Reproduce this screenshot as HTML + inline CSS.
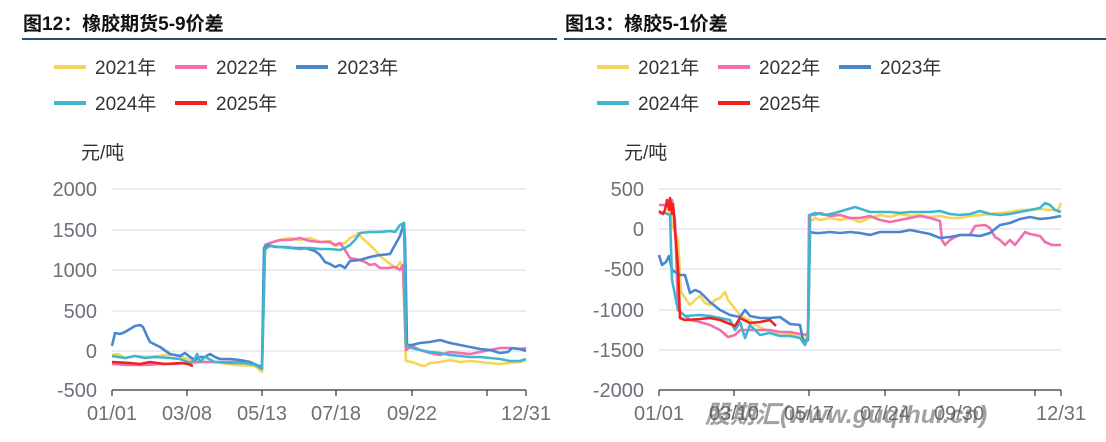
<!DOCTYPE html>
<html><head><meta charset="utf-8"><style>
body{margin:0;background:#fff;width:1106px;height:442px;overflow:hidden}
svg{display:block}
</style></head><body>
<svg width="1106" height="442" xmlns="http://www.w3.org/2000/svg" font-family="Liberation Sans,Noto Sans CJK SC,sans-serif">
<text x="23" y="30" font-size="19" font-weight="bold" fill="#111">图12：橡胶期货5-9价差</text>
<text x="565" y="30" font-size="19" font-weight="bold" fill="#111">图13：橡胶5-1价差</text>
<line x1="22" y1="39" x2="557" y2="39" stroke="#1f4e79" stroke-width="2"/>
<line x1="564" y1="39" x2="1106" y2="39" stroke="#1f4e79" stroke-width="2"/>
<g font-size="19" fill="#333">
<g id="leg">
<line x1="54" y1="67" x2="86" y2="67" stroke="#f5d55a" stroke-width="4"/><text x="95" y="74">2021年</text>
<line x1="175" y1="67" x2="207" y2="67" stroke="#f06fac" stroke-width="4"/><text x="216" y="74">2022年</text>
<line x1="296" y1="67" x2="328" y2="67" stroke="#4a86d0" stroke-width="4"/><text x="337" y="74">2023年</text>
<line x1="54" y1="103" x2="86" y2="103" stroke="#3fb6cf" stroke-width="4"/><text x="95" y="110">2024年</text>
<line x1="175" y1="103" x2="207" y2="103" stroke="#f22222" stroke-width="4"/><text x="216" y="110">2025年</text>
</g>
<use href="#leg" x="543"/>
<text x="81" y="159">元/吨</text>
<text x="624" y="159">元/吨</text>
</g>
<g stroke="#dde1ea" stroke-width="1.2">
<line x1="112" y1="189" x2="526" y2="189"/><line x1="112" y1="230" x2="526" y2="230"/><line x1="112" y1="270" x2="526" y2="270"/><line x1="112" y1="311" x2="526" y2="311"/><line x1="112" y1="351" x2="526" y2="351"/>
<line x1="659" y1="189" x2="1061" y2="189"/><line x1="659" y1="229" x2="1061" y2="229"/><line x1="659" y1="269" x2="1061" y2="269"/><line x1="659" y1="310" x2="1061" y2="310"/><line x1="659" y1="350" x2="1061" y2="350"/>
</g>
<g stroke="#333" stroke-width="1.2">
<line x1="112" y1="390" x2="526" y2="390"/>
<line x1="112" y1="390" x2="112" y2="396"/><line x1="187" y1="390" x2="187" y2="396"/><line x1="262" y1="390" x2="262" y2="396"/><line x1="336" y1="390" x2="336" y2="396"/><line x1="412" y1="390" x2="412" y2="396"/><line x1="487" y1="390" x2="487" y2="396"/><line x1="526" y1="390" x2="526" y2="396"/>
<line x1="659" y1="390" x2="1061" y2="390"/>
<line x1="659" y1="390" x2="659" y2="396"/><line x1="734" y1="390" x2="734" y2="396"/><line x1="809" y1="390" x2="809" y2="396"/><line x1="885" y1="390" x2="885" y2="396"/><line x1="959" y1="390" x2="959" y2="396"/><line x1="1035" y1="390" x2="1035" y2="396"/><line x1="1061" y1="390" x2="1061" y2="396"/>
</g>
<g font-size="20" fill="#6e7079" text-anchor="end">
<text x="97" y="196">2000</text><text x="97" y="237">1500</text><text x="97" y="277">1000</text><text x="97" y="318">500</text><text x="97" y="358">0</text><text x="97" y="397">-500</text>
<text x="644" y="196">500</text><text x="644" y="236">0</text><text x="644" y="276">-500</text><text x="644" y="317">-1000</text><text x="644" y="357">-1500</text><text x="644" y="397">-2000</text>
</g>
<g font-size="20" fill="#6e7079" text-anchor="middle">
<text x="112" y="420">01/01</text><text x="187" y="420">03/08</text><text x="262" y="420">05/13</text><text x="336" y="420">07/18</text><text x="412" y="420">09/22</text><text x="526" y="420">12/31</text>
<text x="659" y="420">01/01</text><text x="734" y="420">03/10</text><text x="809" y="420">05/17</text><text x="885" y="420">07/24</text><text x="959" y="420">09/30</text><text x="1061" y="420">12/31</text>
</g>
<g fill="none" stroke-width="2.6" stroke-linejoin="round">
<polyline stroke="#f5d55a" points="112,355 118,354 125,358 135,356 150,357 165,355 175,355 182,357 190,360 200,362 215,362 235,365 255,366 262,372 265,250 270,243 280,240 290,238 300,240 310,238 320,242 330,241 335,246 340,244 345,243 350,238 355,236 358,233 362,238 370,245 375,250 380,256 390,264 396,268 400,262 403,270 406,361 412,362 420,365 425,366 430,363 440,362 450,360 460,362 470,361 480,362 490,363 500,364 510,363 520,362 526,360"/>
<polyline stroke="#f06fac" points="112,364 130,365 145,365 160,364 175,364 185,363 200,362 220,362 240,362 255,364 262,368 265,245 270,243 280,240 290,240 300,238 310,241 320,242 330,242 335,245 340,243 345,250 350,258 360,260 365,262 370,265 375,264 380,268 388,268 395,267 400,270 403,265 406,350 412,346 420,350 430,353 440,355 450,352 460,353 470,354 480,352 490,350 500,348 510,348 520,349 526,348"/>
<polyline stroke="#4a86d0" points="112,346 115,333 120,334 125,332 130,329 135,326 140,325 143,327 147,336 150,342 160,347 170,354 180,356 185,353 190,357 195,360 200,357 205,357 210,354 215,357 220,359 230,359 240,360 250,362 258,366 262,366 264,248 268,245 275,247 285,247 295,248 305,248 315,251 320,255 325,262 330,264 335,267 340,265 345,268 350,261 360,260 370,257 380,255 390,254 395,245 400,236 404,223 405,240 407,345 412,345 420,343 430,342 440,340 450,343 460,345 470,347 480,349 490,350 500,353 508,352 512,348 520,349 526,351"/>
<polyline stroke="#3fb6cf" points="112,356 118,357 125,358 135,356 145,358 155,357 170,358 180,359 190,363 195,359 197,354 200,362 205,357 215,362 230,363 245,363 255,365 262,369 265,249 270,246 280,247 290,248 300,249 310,248 320,249 330,249 340,250 345,248 350,245 355,240 360,233 370,232 380,232 390,231 395,232 400,225 404,223 406,345 412,348 420,350 430,352 440,353 450,355 460,356 470,357 480,357 490,358 500,359 510,361 520,361 526,359"/>
<polyline stroke="#f22222" points="112,362 130,363 140,364 150,362 165,364 180,363 188,364 193,366"/>

<polyline stroke="#f5d55a" points="659,213 670,213 672,225 678,240 681,292 690,305 695,300 700,296 705,303 710,305 715,300 720,298 725,292 728,300 732,305 740,315 745,318 750,320 755,325 760,327 770,332 780,335 790,334 800,337 805,340 808,330 810,222 815,218 820,220 830,218 840,220 850,218 860,222 870,218 880,215 890,217 900,214 910,216 920,215 930,217 940,216 950,218 960,218 970,216 980,215 990,214 1000,213 1010,212 1020,210 1030,210 1040,209 1050,210 1058,210 1061,203"/>
<polyline stroke="#f06fac" points="659,205 670,205 672,200 675,220 678,310 690,320 700,322 710,325 720,330 728,337 735,335 740,330 750,330 760,330 770,330 780,332 790,332 800,334 808,335 809,215 815,215 820,213 830,216 840,215 850,218 860,218 870,216 880,220 890,222 900,220 910,218 920,216 930,218 940,221 942,240 945,245 950,240 955,237 960,235 970,235 975,226 985,225 990,228 995,237 1000,240 1005,245 1010,240 1015,245 1025,232 1030,234 1040,236 1045,242 1052,245 1061,245"/>
<polyline stroke="#4a86d0" points="659,255 662,265 666,262 669,256 672,270 675,272 680,275 685,275 690,293 695,290 700,292 710,302 720,310 730,315 740,317 745,310 750,316 760,318 770,318 780,317 790,324 800,325 803,340 806,341 808,340 810,232 815,233 820,233 830,232 840,233 850,232 860,233 870,235 880,232 890,232 900,232 910,230 920,232 930,234 940,238 950,237 960,235 970,235 980,236 990,233 1000,225 1010,223 1020,219 1030,217 1040,219 1050,218 1061,216"/>
<polyline stroke="#3fb6cf" points="659,213 665,213 670,215 672,280 678,310 685,316 700,315 710,316 720,318 730,320 735,330 740,322 745,338 750,325 760,335 770,333 780,336 790,336 800,338 805,345 808,337 810,215 815,213 825,215 835,213 845,210 855,207 870,212 880,212 890,212 900,213 910,212 920,212 930,212 940,211 950,214 960,215 970,214 980,211 990,214 1000,215 1010,214 1020,212 1030,210 1040,208 1045,203 1050,205 1055,210 1061,212"/>
<polyline stroke="#f22222" points="659,211 663,214 665,210 667,200 669,210 670,198 672,214 673,204 675,230 678,268 680,318 685,320 700,319 710,318 720,320 735,326 740,318 750,323 760,322 770,320 776,326"/>
</g>
<text x="705" y="423" font-size="25" font-weight="bold" font-style="italic" fill="#555" opacity="0.55">股期汇(www.guqihui.cn)</text>
</svg>
</body></html>
